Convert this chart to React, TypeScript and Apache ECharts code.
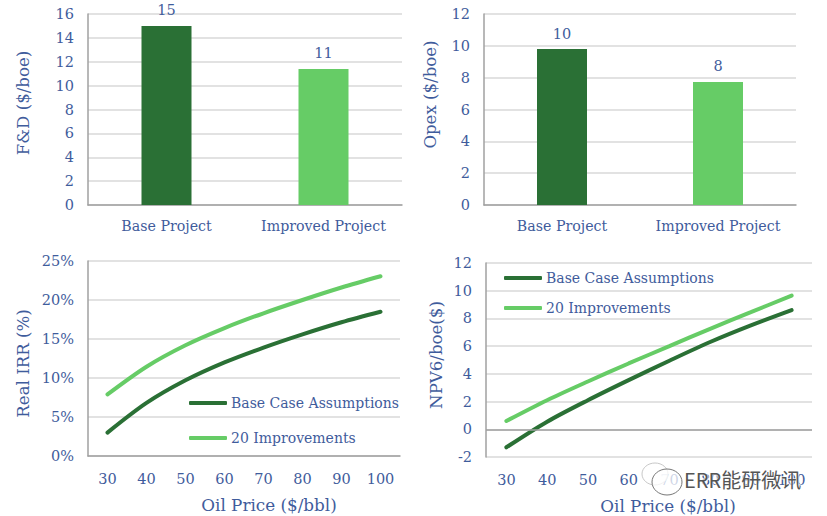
import React, { useEffect, useRef } from "react";
import * as echarts from "echarts";

const projects = ["Base Project", "Improved Project"];
const fdValues = [15.0, 11.4];
const opexValues = [9.8, 7.73];
const oilPrices = ["30", "40", "50", "60", "70", "80", "90", "100"];
const irrBase = [3.0, 6.8, 9.7, 12.0, 13.9, 15.6, 17.15, 18.5];
const irrImproved = [7.9, 11.45, 14.2, 16.4, 18.3, 20.0, 21.6, 23.05];
const npvBase = [-1.3, 0.55, 2.1, 3.55, 4.95, 6.3, 7.5, 8.6];
const npvImproved = [0.6, 2.1, 3.45, 4.75, 6.0, 7.25, 8.45, 9.65];
const baseName = "Base Case Assumptions";
const improvedName = "20 Improvements";

const DARK = "#2A7035";
const LIGHT = "#66CC66";
const TEXT = "#3F5C9C";
const GRID = "#D9D9D9";
const AXIS = "#A0A0A0";
const FONT = "'DejaVu Serif', serif";

const tickStyle = { color: TEXT, fontFamily: FONT, fontSize: 14.5 };
const labelStyle = { color: TEXT, fontFamily: FONT, fontSize: 14.2 };

function yAxis(gridIndex: number, name: string, min: number, max: number, interval: number, nameGap: number, padding: number[], fmt?: string) {
  return {
    type: "value", gridIndex, min, max, interval, name, nameLocation: "middle", nameGap,
    nameTextStyle: { color: TEXT, fontFamily: FONT, fontSize: 16.6, padding },
    axisLine: { show: true, onZero: false, lineStyle: { color: AXIS, width: 1.5 } },
    axisTick: { show: false },
    axisLabel: { ...tickStyle, margin: 14, formatter: fmt },
    splitLine: { show: true, lineStyle: { color: GRID, width: 1.5 } },
  };
}

function barSeries(i: number, values: number[]) {
  return {
    type: "bar", xAxisIndex: i, yAxisIndex: i, barWidth: 50,
    data: values.map((value, k) => ({ value, itemStyle: { color: k === 0 ? DARK : LIGHT } })),
    label: { show: true, position: "top", distance: 8, color: TEXT, fontFamily: FONT, fontSize: 14.5,
      formatter: (p: any) => String(Math.round(p.value)) },
  };
}

function lineSeries(i: number, name: string, values: number[], color: string, extra: object = {}) {
  return {
    type: "line", name, xAxisIndex: i, yAxisIndex: i, data: values, smooth: 0.3, symbol: "none",
    itemStyle: { color }, lineStyle: { color, width: 4, cap: "round" }, ...extra,
  };
}

function legend(left: number, top: number, itemGap: number) {
  return {
    left, top, orient: "vertical", itemWidth: 38, itemHeight: 4, itemGap, icon: "roundRect",
    selectedMode: false, padding: 0, data: [baseName, improvedName],
    textStyle: { color: TEXT, fontFamily: FONT, fontSize: 14, padding: [0, 0, 0, -1] },
  };
}

export default function App() {
  const ref = useRef<HTMLDivElement>(null);
  useEffect(() => {
    document.body.style.margin = "0";
    const chart = echarts.init(ref.current!, null, { renderer: "svg" });
    const priceAxis = (gridIndex: number, showLine: boolean, shift: number) => ({
      type: "category", gridIndex, data: oilPrices, name: "Oil Price ($/bbl)", nameLocation: "middle", nameGap: 40,
      nameTextStyle: { color: TEXT, fontFamily: FONT, fontSize: 16.8, padding: [0, 0, 0, shift] },
      axisLine: { show: showLine, onZero: false, lineStyle: { color: AXIS, width: 1.5 } },
      axisTick: { show: false },
      axisLabel: { ...tickStyle, margin: 15, interval: 0 },
    });
    const projectAxis = (gridIndex: number) => ({
      type: "category", gridIndex, data: projects,
      axisLine: { lineStyle: { color: AXIS, width: 1.5 } },
      axisTick: { show: false },
      axisLabel: { ...labelStyle, margin: 14, interval: 0 },
    });
    chart.setOption({
      animation: false,
      backgroundColor: "#fff",
      grid: [
        { left: 88, top: 14, width: 314, height: 191 },
        { left: 484, top: 14, width: 312, height: 191 },
        { left: 88, top: 261, width: 312, height: 195 },
        { left: 486, top: 263, width: 326, height: 194 },
      ],
      xAxis: [projectAxis(0), projectAxis(1), priceAxis(2, true, 50), priceAxis(3, false, 38)],
      yAxis: [
        yAxis(0, "F&D ($/boe)", 0, 16, 2, 56, [0, 0, 0, 13]),
        yAxis(1, "Opex ($/boe)", 0, 12, 2, 45, [0, 0, 0, 30]),
        yAxis(2, "Real IRR (%)", 0, 25, 5, 56, [0, 10, 0, 0], "{value}%"),
        yAxis(3, "NPV6/boe($)", -2, 12, 2, 41, [0, 0, 0, 10]),
      ],
      legend: [legend(189, 396, 21), legend(504, 271, 16)],
      series: [
        barSeries(0, fdValues),
        barSeries(1, opexValues),
        lineSeries(2, baseName, irrBase, DARK),
        lineSeries(2, improvedName, irrImproved, LIGHT),
        lineSeries(3, baseName, npvBase, DARK, {
          markLine: { silent: true, symbol: "none", label: { show: false }, lineStyle: { color: AXIS, width: 1.5, type: "solid" }, data: [{ yAxis: 0 }] },
        }),
        lineSeries(3, improvedName, npvImproved, LIGHT),
      ],
      graphic: [
        { type: "ellipse", shape: { cx: 655, cy: 474, rx: 13, ry: 11 }, style: { fill: "rgba(255,255,255,0.75)", stroke: "#C8C8C8", lineWidth: 1 }, z: 50 },
        { type: "ellipse", shape: { cx: 667, cy: 482, rx: 15, ry: 13 }, style: { fill: "rgba(255,255,255,0.75)", stroke: "#777", lineWidth: 1 }, z: 51 },
        { type: "text", x: 684, y: 469, z: 52, style: { text: "ERR能研微讯", fill: "#555", stroke: "rgba(255,255,255,0.7)", lineWidth: 2, font: "20px 'Noto Sans CJK SC'" } },
      ],
    });
    return () => chart.dispose();
  }, []);
  return <div ref={ref} style={{ width: 827, height: 516 }} />;
}
